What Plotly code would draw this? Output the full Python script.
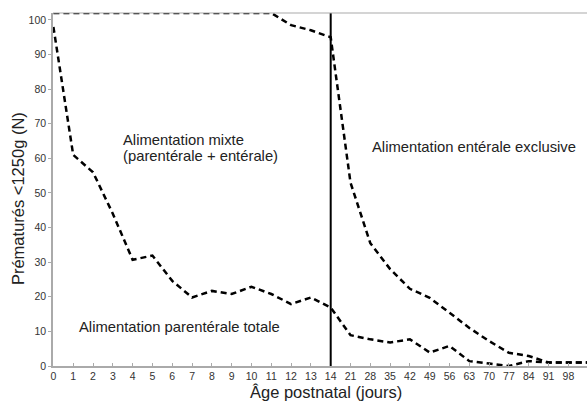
import plotly.graph_objects as go

categories = ["0","1","2","3","4","5","6","7","8","9","10","11","12","13","14",
              "21","28","35","42","49","56","63","70","77","84","91","98","105"]
mixte = [102,102,102,102,102,102,102,102,102,102,102,102,98.5,97,95,
         53,35.5,28,22.3,19.7,15.4,11,7.2,3.8,2.9,1,1,1]
parenterale = [98,61,56,44,30.7,31.9,24.6,19.8,21.7,20.8,22.9,20.8,17.9,19.8,16.9,
               8.9,7.7,6.8,7.7,3.9,5.8,1.4,0.7,0,1.4,1,1,1]
y_ticks = [0,10,20,30,40,50,60,70,80,90,100]
x_tick_labels = categories[:-1]

FONT = "Liberation Sans, Arial, sans-serif"
dash = "6px,4px"

fig = go.Figure()
for name, vals in [("mixte", mixte), ("parenterale", parenterale)]:
    fig.add_trace(go.Scatter(x=categories, y=vals, mode="lines", name=name,
                             line=dict(color="black", width=2.5, dash=dash),
                             showlegend=False, cliponaxis=True))

fig.add_shape(type="line", xref="x", yref="paper", x0=14, x1=14, y0=0, y1=1,
              line=dict(color="black", width=2))
fig.add_shape(type="line", xref="paper", yref="paper", x0=0, x1=1, y0=1, y1=1,
              line=dict(color="#aaaaaa", width=1.2))

ann_font = dict(family=FONT, size=14.8, color="#222222")
def label(x, y, text):
    fig.add_annotation(x=x, y=y, xref="x", yref="y", text=text, showarrow=False,
                       xanchor="left", yanchor="middle", align="left", font=ann_font,
                       borderpad=0, borderwidth=0, xshift=-1)

label(3.575, 65.3, "Alimentation mixte")
label(3.575, 60.8, "(parentérale + entérale)")
label(16.16, 63.4, "Alimentation entérale exclusive")
label(1.32, 11.3, "Alimentation parentérale totale")

title_font = dict(family=FONT, size=16.5, color="#222222")
fig.add_annotation(x=0.512, y=-0.075, xref="paper", yref="paper", text="Âge postnatal (jours)",
                   showarrow=False, xanchor="center", yanchor="middle", font=title_font)
fig.add_annotation(x=-0.0655, y=0.473, xref="paper", yref="paper", text="Prématurés <1250g (N)",
                   showarrow=False, xanchor="center", yanchor="middle", textangle=-90, font=title_font)

fig.update_layout(
    width=587, height=401,
    margin=dict(l=53, r=0, t=13, b=35),
    paper_bgcolor="white", plot_bgcolor="white",
    font=dict(family=FONT, color="#333333"),
    xaxis=dict(type="category", categoryorder="array", categoryarray=categories,
               range=[-0.02, 26.94], showgrid=False, zeroline=False,
               showline=True, linecolor="#aaaaaa", linewidth=1.5,
               ticks="inside", ticklen=3, tickcolor="#aaaaaa",
               tickmode="array", tickvals=x_tick_labels, ticktext=x_tick_labels,
               tickfont=dict(family=FONT, size=10.5, color="#333333")),
    yaxis=dict(range=[0, 102], showgrid=False, zeroline=False,
               showline=True, linecolor="#aaaaaa", linewidth=1.5,
               ticks="outside", ticklen=3, tickcolor="#aaaaaa",
               tickvals=y_ticks,
               tickfont=dict(family=FONT, size=10.5, color="#333333")),
)

fig.write_html("out.html")
